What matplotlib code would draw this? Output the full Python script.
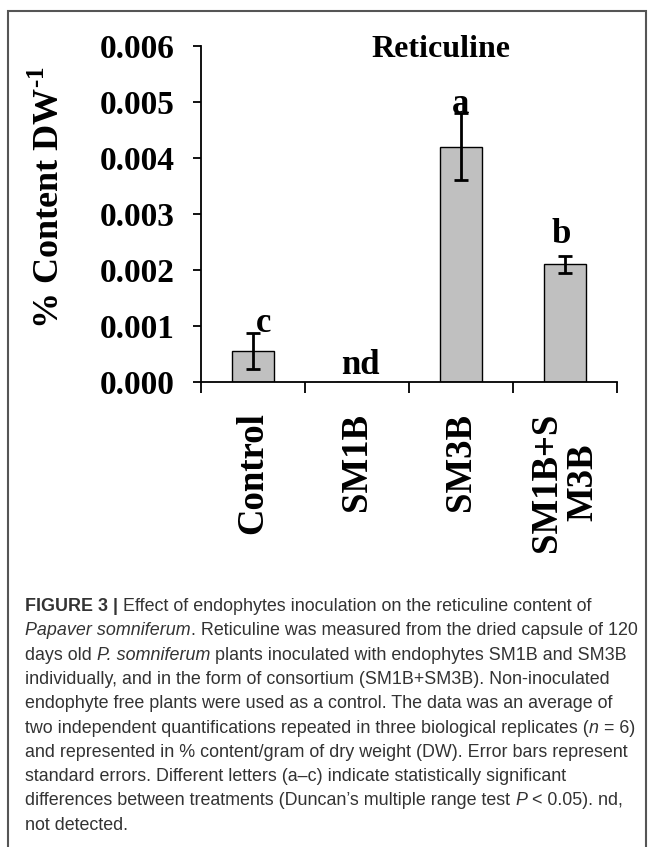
import matplotlib
matplotlib.use('Agg')
import matplotlib.pyplot as plt
from matplotlib.patches import Rectangle

matplotlib.rcParams['font.family'] = 'Liberation Serif'
matplotlib.rcParams['font.weight'] = 'bold'
matplotlib.rcParams['mathtext.fontset'] = 'custom'
matplotlib.rcParams['mathtext.rm'] = 'Liberation Serif:bold'
matplotlib.rcParams['mathtext.bf'] = 'Liberation Serif:bold'

# data
categories = ['Control', 'SM1B', 'SM3B', 'SM1B+S\nM3B']
means = [0.00055, 0.0, 0.0042, 0.0021]
errors = [0.00032, 0.0, 0.0006, 0.00015]
letters = ['c', 'nd', 'a', 'b']
letter_y = [0.00105, 0.0003, 0.00496, 0.00264]
letter_dx = [0.1, 0.03, 0.0, -0.04]
yticks = [0.000, 0.001, 0.002, 0.003, 0.004, 0.005, 0.006]

caption = [
    [('FIGURE 3 | ', 'bold'), ('Effect of endophytes inoculation on the reticuline content of', 'normal')],
    [('Papaver somniferum', 'italic'), ('. Reticuline was measured from the dried capsule of 120', 'normal')],
    [('days old ', 'normal'), ('P. somniferum', 'italic'), (' plants inoculated with endophytes SM1B and SM3B', 'normal')],
    [('individually, and in the form of consortium (SM1B+SM3B). Non-inoculated', 'normal')],
    [('endophyte free plants were used as a control. The data was an average of', 'normal')],
    [('two independent quantifications repeated in three biological replicates (', 'normal'), ('n', 'italic'), (' = 6)', 'normal')],
    [('and represented in % content/gram of dry weight (DW). Error bars represent', 'normal')],
    [('standard errors. Different letters (a\u2013c) indicate statistically significant', 'normal')],
    [('differences between treatments (Duncan\u2019s multiple range test ', 'normal'), ('P', 'italic'), (' < 0.05). nd,', 'normal')],
    [('not detected.', 'normal')],
]

W, H = 654, 847
fig = plt.figure(figsize=(W / 100, H / 100), dpi=100)
ax = fig.add_axes([201 / W, 1 - 382 / H, 416 / W, 336 / H])

x = list(range(len(categories)))
ax.bar(x, means, width=0.4, color='#c0c0c0', edgecolor='black', linewidth=1.0, zorder=2)
xe = [i for i in x if means[i] > 0]
ax.errorbar(xe, [means[i] for i in xe], yerr=[errors[i] for i in xe], fmt='none',
            ecolor='black', elinewidth=2, capsize=5, capthick=2, zorder=3)

for i, (lt, ly, dx) in enumerate(zip(letters, letter_y, letter_dx)):
    ax.text(i + dx, ly, lt, ha='center', va='center', fontsize=25, fontweight='bold')

ax.text(0.577, 0.99, 'Reticuline', transform=ax.transAxes, ha='center', va='center',
        fontsize=23, fontweight='bold')

ax.set_xlim(-0.5, len(categories) - 0.5)
ax.set_ylim(0, 0.006)
ax.set_yticks(yticks)
ax.set_yticklabels([f'{v:.3f}' for v in yticks])
ax.set_xticks([i - 0.5 for i in range(len(categories) + 1)])
ax.set_xticklabels([])
ax.set_xticks(x, minor=True)
ax.set_xticklabels(categories, minor=True, rotation=90, va='top', ha='center',
                   fontsize=26.5, fontweight='bold', linespacing=1.05)
ax.tick_params(axis='x', which='minor', length=0, pad=22)
ax.tick_params(axis='x', which='major', length=8, width=1.3, direction='out')
ax.tick_params(axis='y', length=6, width=1.3, direction='out', pad=13, labelsize=24)

for s in ['top', 'right']:
    ax.spines[s].set_visible(False)
for s in ['left', 'bottom']:
    ax.spines[s].set_linewidth(1.3)

ax.set_ylabel(r'% Content DW$^{\text{-}1}$', fontsize=26, fontweight='bold')
ax.yaxis.set_label_coords(-0.322, 0.55)

# panel border
fig.patches.append(Rectangle((8 / W, -0.05), 638 / W, 1.05 - 11 / H, transform=fig.transFigure,
                             fill=False, edgecolor='#555555', linewidth=1.5))

# caption, placed segment by segment
renderer = fig.canvas.get_renderer()
cap_font = 'Liberation Sans'
cap_size = 12.9


def seg_width(txt, style):
    kw = dict(fontsize=cap_size, family=cap_font,
              fontweight='bold' if style == 'bold' else 'normal',
              fontstyle='italic' if style == 'italic' else 'normal')
    a = fig.text(0, 0, '|' + txt + '|', **kw)
    b = fig.text(0, 0, '||', **kw)
    w = a.get_window_extent(renderer).width - b.get_window_extent(renderer).width
    a.remove()
    b.remove()
    return w, kw


for k, parts in enumerate(caption):
    ybase = 611 + 24.3 * k
    xpos = 25
    for txt, style in parts:
        w, kw = seg_width(txt, style)
        fig.text(xpos / W, 1 - ybase / H, txt, va='baseline', ha='left', color='#333333', **kw)
        xpos += w

fig.savefig('out.png', dpi=100)
